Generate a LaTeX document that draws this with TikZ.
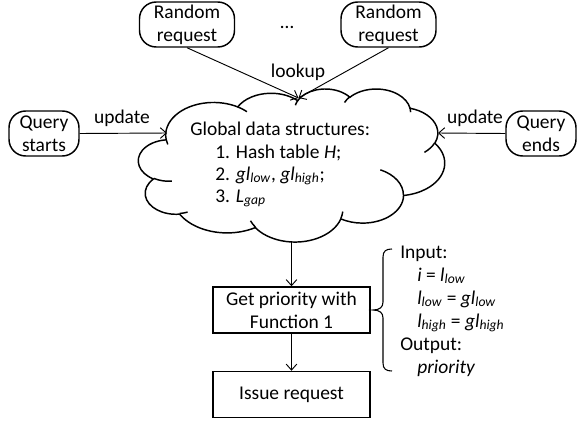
\documentclass[tikz,border=0pt]{standalone}
\usepackage{fontspec}
\setmainfont{Carlito}
\usetikzlibrary{arrows.meta}
\newcommand\lsub[1]{\textsubscript{\textit{#1}}}
\begin{document}
\begin{tikzpicture}[x=0.75pt,y=-0.75pt,
  font=\fontsize{14.6pt}{17.25pt}\selectfont,
  shapeline/.style={line width=1.1pt, draw=black},
  rbox/.style={shapeline, rounded corners=12.5pt, minimum height=33.75pt, align=center, inner sep=0pt},
  sbox/.style={shapeline, minimum width=117.75pt, minimum height=34.5pt, align=center, inner sep=0pt},
  conn/.style={line width=0.7pt, -{Straight Barb[length=4.5pt,width=8pt]}},
  lbl/.style={inner sep=0pt},
  txt/.style={inner sep=0pt, anchor=base west}]
\useasboundingbox (0,0) rectangle (578,421);

% cloud
\begin{scope}[shift={(138.5,88.5)}, xscale=0.05315, yscale=-0.026565, x=1pt, y=1pt]
\draw[shapeline, fill=white] (390,1437)
 arc[start angle=-187.75, end angle=-59.64, x radius=675.3, y radius=919.0]
 arc[start angle=-152.02, end angle=-45.45, x radius=533.3, y radius=726.7]
 arc[start angle=-153.49, end angle=-37.33, x radius=436.5, y radius=594.5]
 arc[start angle=-139.72, end angle=-10.22, x radius=485.7, y radius=659.5]
 arc[start angle=-74.77, end angle=23.21, x radius=533.3, y radius=727.3]
 arc[start angle=-37.53, end angle=81.87, x radius=677.5, y radius=922.0]
 arc[start angle=0.46, end angle=121.98, x radius=578.5, y radius=786.7]
 arc[start angle=16.85, end angle=146.22, x radius=675.2, y radius=921.5]
 arc[start angle=58.98, end angle=150.18, x radius=772.0, y radius=1054.3]
 arc[start angle=83.31, end angle=223.11, x radius=436.0, y radius=591.8]
 arc[start angle=120.36, end angle=264.11, x radius=434.5, y radius=594.5]
 -- cycle;
\draw[shapeline] (469.3,2617.7) arc[start angle=85.54, end angle=120.36, x radius=434.5, y radius=594.5];
\draw[shapeline] (692.8,3489.9) arc[start angle=68.23, end angle=83.31, x radius=436.0, y radius=591.8];
\draw[shapeline] (1647.8,3909.0) arc[start angle=146.22, end angle=158.47, x radius=675.2, y radius=921.5];
\draw[shapeline] (2882.7,3475.1) arc[start angle=4.74, end angle=16.85, x radius=675.2, y radius=921.5];
\draw[shapeline] (3412.9,2295.4) arc[start angle=-64.03, end angle=0.46, x radius=578.5, y radius=786.7];
\draw[shapeline] (4179.8,1535.4) arc[start angle=23.21, end angle=49.64, x radius=533.3, y radius=727.3];
\draw[shapeline] (3832.4,542.6) arc[start angle=-10.22, end angle=0.82, x radius=485.7, y radius=659.5];
\draw[shapeline] (2907.8,395.2) arc[start angle=-156.30, end angle=-139.72, x radius=485.7, y radius=659.5];
\draw[shapeline] (2214.1,472.0) arc[start angle=-167.72, end angle=-153.49, x radius=436.5, y radius=594.5];
\draw[shapeline] (1400.0,519.2) arc[start angle=-59.64, end angle=-45.74, x radius=675.3, y radius=919.0];
\draw[shapeline] (412.7,1578.9) arc[start angle=163.2, end angle=172.25, x radius=675.3, y radius=919.0];
\end{scope}

\coordinate (ctop) at (298.5,98);
\coordinate (cleft) at (167,133);
\coordinate (cright) at (438,133);
\coordinate (cbot) at (291.5,242);

% cloud text
\node[txt] (g0) at (190,135) {Global data structures:};
\node[txt] (g1) at (215,158) {1. Hash table \textit{H};};
\node[txt] (g2) at (215,180) {2. \textit{gl}\lsub{low}, \textit{gl}\lsub{high};};
\node[txt] (g3) at (215,202) {3. \textit{L}\lsub{gap}};

% boxes
\node[rbox, minimum width=71.25pt] (rr1) at (187,24.5) {Random\\request};
\node[rbox, minimum width=71.25pt] (rr2) at (388.5,24.5) {Random\\request};
\node[lbl] (dots) at (287,27) {…};
\node[rbox, minimum width=52.5pt] (qs) at (44,133.5) {Query\\starts};
\node[rbox, minimum width=52.5pt] (qe) at (541,133.5) {Query\\ends};
\node[sbox] (gp) at (291.5,310) {Get priority with\\Function 1};
\node[sbox] (ir) at (291.5,394.5) {Issue request};

% labels
\node[lbl] (lk) at (298,72) {lookup};
\node[lbl] (up1) at (122,118) {update};
\node[lbl] (up2) at (475,118) {update};

% connectors
\draw[conn] (rr1.south) -- (ctop);
\draw[conn] (rr2.south) -- (ctop);
\draw[conn] (qs.east) -- (cleft);
\draw[conn] (qe.west) -- (cright);
\draw[conn] (cbot) -- (gp.north);
\draw[conn] (gp.south) -- (ir.north);

% brace
\draw[line width=0.8pt] (392,249) .. controls (386,249) and (383,251) .. (383,257) -- (383,302)
  .. controls (383,307) and (380,310) .. (373,310) .. controls (380,310) and (383,313) .. (383,318)
  -- (383,363) .. controls (383,369) and (386,371) .. (392,371);

% brace text
\node[txt] (b0) at (400,258) {Input:};
\node[txt] (b1) at (417,281) {\textit{i} = \textit{l}\lsub{low}};
\node[txt] (b2) at (417,304) {\textit{l}\lsub{low} = \textit{gl}\lsub{low}};
\node[txt] (b3) at (417,327) {\textit{l}\lsub{high} = \textit{gl}\lsub{high}};
\node[txt] (b4) at (400,350) {Output:};
\node[txt] (b5) at (417,373) {\textit{priority}};
\end{tikzpicture}
\end{document}
